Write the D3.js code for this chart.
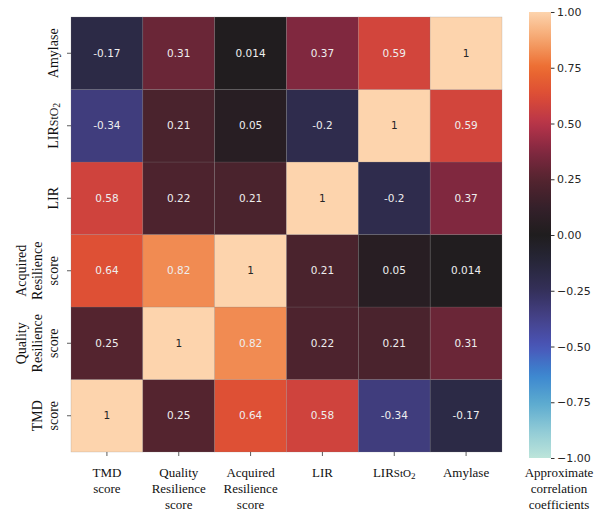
<!DOCTYPE html>
<html><head><meta charset="utf-8">
<script src="https://cdn.jsdelivr.net/npm/d3@7"></script>
<style>body{margin:0;background:#fff}</style>
</head><body>
<svg id="c" width="598" height="511"></svg>
<script>
const variables = ["TMD score","Quality Resilience score","Acquired Resilience score","LIR","LIRStO2","Amylase"];
const xLabelLines = [["TMD","score"],["Quality","Resilience","score"],["Acquired","Resilience","score"],["LIR"],["LIRStO2"],["Amylase"]];
const rowTMD      = [1, 0.25, 0.64, 0.58, -0.34, -0.17];
const rowQuality  = [0.25, 1, 0.82, 0.22, 0.21, 0.31];
const rowAcquired = [0.64, 0.82, 1, 0.21, 0.05, 0.014];
const rowLIR      = [0.58, 0.22, 0.21, 1, -0.2, 0.37];
const rowLIRStO2  = [-0.34, 0.21, 0.05, -0.2, 1, 0.59];
const rowAmylase  = [-0.17, 0.31, 0.014, 0.37, 0.59, 1];
const matrix = [rowTMD,rowQuality,rowAcquired,rowLIR,rowLIRStO2,rowAmylase];
const colorbarTicks = [-1,-0.75,-0.5,-0.25,0,0.25,0.5,0.75,1];
const colorbarTitle = ["Approximate","correlation","coefficients"];

const stopVals = [-1,-0.875,-0.75,-0.625,-0.5,-0.375,-0.25,-0.125,0,0.125,0.25,0.375,0.5,0.625,0.75,0.875,1];
const stopCols = ["#bde5da","#8fcad6","#5aa9cf","#3b86d0","#4a55b8","#45428a","#34305a","#27263a","#1f1d1e","#35202a","#54242f","#822840","#b8344a","#dc4c36","#ec6c30","#f5a36c","#fdd4ad"];
const color = d3.scaleLinear().domain(stopVals).range(stopCols).interpolate(d3.interpolateRgb);

const svg = d3.select("#c");
const L=71, R=502, T=17, B=452;
const x = d3.scaleBand().domain(d3.range(6)).range([L,R]);
const y = d3.scaleBand().domain(d3.range(6)).range([B,T]);

const cells = [];
matrix.forEach((row,i)=>row.forEach((v,j)=>cells.push({i,j,v})));

svg.append("g").selectAll("rect").data(cells).join("rect")
  .attr("x",d=>x(d.j)).attr("y",d=>y(d.i))
  .attr("width",x.bandwidth()).attr("height",y.bandwidth())
  .attr("fill",d=>color(d.v))
  .attr("stroke","rgba(128,128,128,0.35)").attr("stroke-width",0.6);

function lum(c){const r=d3.rgb(c);const f=v=>{v/=255;return v<=0.03928?v/12.92:Math.pow((v+0.055)/1.055,2.4)};return 0.2126*f(r.r)+0.7152*f(r.g)+0.0722*f(r.b);}
svg.append("g").selectAll("text").data(cells).join("text")
  .attr("x",d=>x(d.j)+x.bandwidth()/2).attr("y",d=>y(d.i)+y.bandwidth()/2)
  .attr("dy","0.35em").attr("text-anchor","middle")
  .attr("font-family","DejaVu Sans").attr("font-size",10.5)
  .attr("fill",d=>lum(color(d.v))>0.408?"#262626":"#eeeeee")
  .text(d=>String(d.v));

// axes (ticks only)
const xa = svg.append("g").attr("transform",`translate(0,${B})`).call(d3.axisBottom(x).tickSize(4).tickFormat(""));
const ya = svg.append("g").attr("transform",`translate(${L},0)`).call(d3.axisLeft(y).tickSize(4).tickFormat(""));
[xa,ya].forEach(a=>{a.select(".domain").remove();a.selectAll("line").attr("stroke","#333").attr("stroke-width",0.8);});

function addLine(t,s){
  if(s==="LIRStO2"){
    t.append("tspan").text("LIR");
    t.append("tspan").attr("font-size","85%").text("StO");
    t.append("tspan").attr("font-size","70%").attr("dy","0.25em").text("2");
  } else t.text(s);
}
const serif="Liberation Serif, Times New Roman, serif";
xLabelLines.forEach((lines,j)=>{
  lines.forEach((s,k)=>{
    const t=svg.append("text").attr("x",x(j)+x.bandwidth()/2).attr("y",477+k*16)
      .attr("text-anchor","middle").attr("font-family",serif).attr("font-size",13).attr("fill","#111");
    addLine(t,s);
  });
});
xLabelLines.forEach((lines,i)=>{
  const n=lines.length;
  lines.forEach((s,k)=>{
    const cx = 58 - (n-1-k)*16;
    const cy = y(i)+y.bandwidth()/2;
    const t=svg.append("text").attr("transform",`translate(${cx},${cy}) rotate(-90)`)
      .attr("text-anchor","middle").attr("font-family",serif).attr("font-size",14).attr("fill","#111");
    addLine(t,s);
  });
});

// colorbar
const CL=529, CR=551, CT=12, CB=458;
const cy = d3.scaleLinear().domain([-1,1]).range([CB,CT]);
const grad = svg.append("defs").append("linearGradient").attr("id","g").attr("x1",0).attr("y1",1).attr("x2",0).attr("y2",0);
d3.range(0,1.0001,0.02).forEach(p=>grad.append("stop").attr("offset",p).attr("stop-color",color(-1+2*p)));
svg.append("rect").attr("x",CL).attr("y",CT).attr("width",CR-CL).attr("height",CB-CT).attr("fill","url(#g)");
const ca = svg.append("g").attr("transform",`translate(${CR},0)`)
  .call(d3.axisRight(cy).tickValues(colorbarTicks).tickSize(3.5).tickFormat(d=>d3.format(".2f")(d).replace("-","\u2212")));
ca.select(".domain").remove();
ca.selectAll("line").attr("stroke","#333");
ca.selectAll("text").attr("font-family","DejaVu Sans").attr("font-size",11).attr("fill","#262626").attr("x",6);
colorbarTitle.forEach((s,k)=>{
  svg.append("text").attr("x",559).attr("y",477+k*16).attr("text-anchor","middle")
    .attr("font-family",serif).attr("font-size",13).attr("fill","#111").text(s);
});
</script>
</body></html>
